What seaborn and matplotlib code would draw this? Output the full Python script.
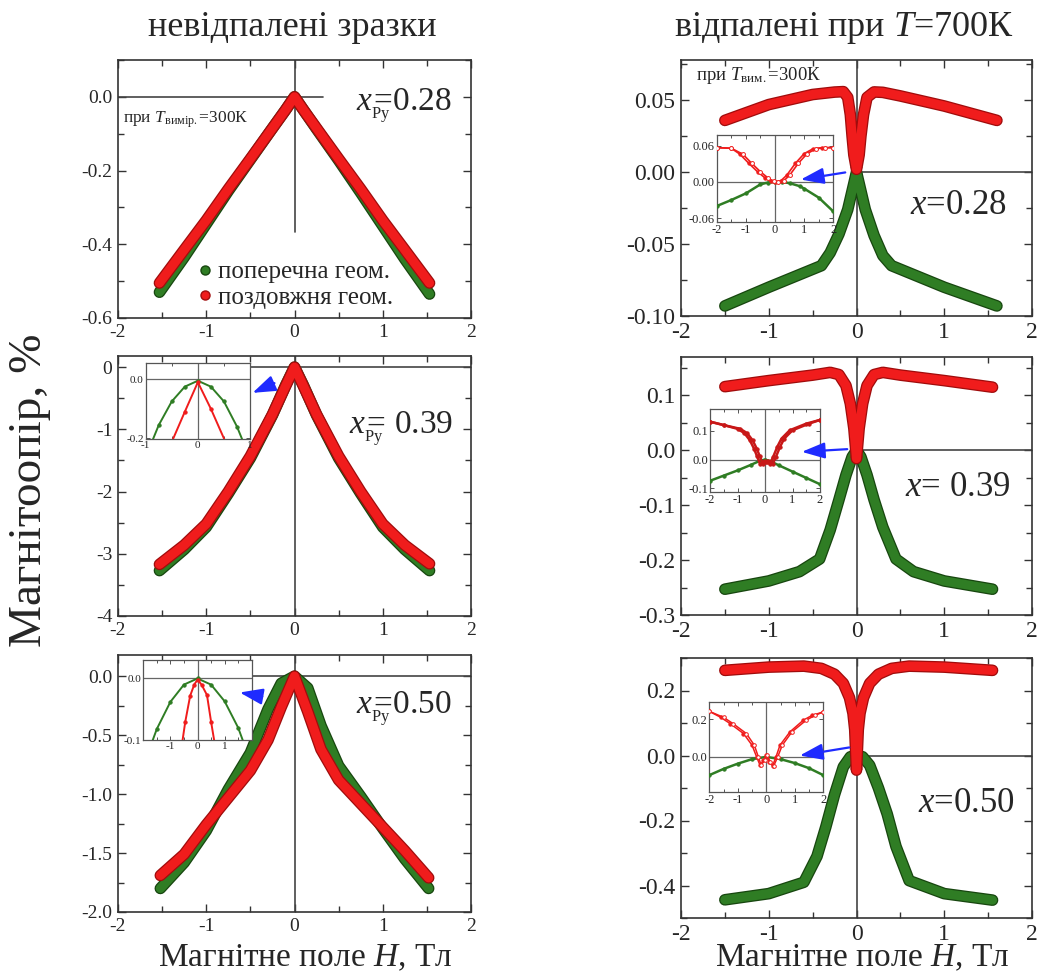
import numpy as np
import pandas as pd
import matplotlib
matplotlib.use('Agg')
import matplotlib.pyplot as plt
import seaborn as sns
from matplotlib.lines import Line2D
from matplotlib.patches import FancyArrowPatch
import matplotlib.patheffects as pe
from matplotlib.ticker import MultipleLocator, FuncFormatter

# ---------------- data ----------------
# left column: as-deposited films
L_H = [-1.53, -1.25, -1.0, -0.75, -0.5, -0.25, -0.1, 0.0, 0.1, 0.25, 0.5, 0.75, 1.0, 1.25, 1.53]
L1_red = [-0.505, -0.415, -0.335, -0.25, -0.168, -0.085, -0.035, 0.0, -0.035, -0.085, -0.168, -0.25, -0.335, -0.415, -0.505]
L1_green = [-0.53, -0.435, -0.345, -0.255, -0.17, -0.085, -0.035, 0.0, -0.035, -0.087, -0.172, -0.26, -0.35, -0.44, -0.535]
L2_red = [-3.17, -2.86, -2.52, -2.0, -1.43, -0.76, -0.30, 0.0, -0.30, -0.76, -1.43, -2.0, -2.52, -2.86, -3.16]
L2_green = [-3.27, -2.93, -2.57, -2.03, -1.46, -0.77, -0.29, 0.0, -0.29, -0.77, -1.46, -2.03, -2.57, -2.93, -3.27]
L3_H = [-1.52, -1.25, -1.0, -0.75, -0.5, -0.3, -0.15, 0.0, 0.15, 0.3, 0.5, 0.75, 1.0, 1.25, 1.52]
L3_red = [-1.69, -1.51, -1.26, -1.03, -0.80, -0.54, -0.26, 0.0, -0.30, -0.62, -0.88, -1.08, -1.28, -1.48, -1.71]
L3_green = [-1.80, -1.58, -1.31, -0.96, -0.65, -0.28, -0.06, 0.0, -0.10, -0.42, -0.76, -1.02, -1.29, -1.55, -1.80]

# left insets
L2i_gH = [-0.9, -0.75, -0.5, -0.25, 0.0, 0.25, 0.5, 0.75, 0.9]
L2i_g = [-0.22, -0.155, -0.075, -0.025, -0.005, -0.025, -0.075, -0.16, -0.225]
L2i_rH = [-0.52, -0.25, 0.0, 0.25, 0.55]
L2i_r = [-0.22, -0.11, -0.01, -0.10, -0.22]
L3i_gH = [-1.75, -1.5, -1.0, -0.5, 0.0, 0.5, 1.0, 1.5, 1.75]
L3i_g = [-0.112, -0.082, -0.038, -0.010, 0.0, -0.010, -0.037, -0.080, -0.110]
L3i_rH = [-0.6, -0.45, -0.27, -0.12, 0.0, 0.15, 0.35, 0.5, 0.65]
L3i_r = [-0.115, -0.07, -0.028, -0.01, -0.002, -0.01, -0.027, -0.07, -0.11]

# right column: annealed at 700 K
R1_rH = [-1.5, -1.0, -0.5, -0.25, -0.15, -0.1, -0.07, -0.05, -0.03, 0.0, 0.03, 0.05, 0.08, 0.12, 0.2, 0.3, 0.5, 1.0, 1.6]
R1_red = [0.036, 0.047, 0.054, 0.0557, 0.056, 0.052, 0.040, 0.025, 0.012, 0.002, 0.012, 0.025, 0.040, 0.052, 0.0558, 0.0555, 0.053, 0.046, 0.036]
R1_gH = [-1.5, -1.0, -0.6, -0.4, -0.3, -0.2, -0.1, -0.05, 0.0, 0.05, 0.1, 0.2, 0.3, 0.4, 0.6, 1.0, 1.6]
R1_green = [-0.093, -0.080, -0.070, -0.065, -0.056, -0.043, -0.026, -0.013, 0.0, -0.013, -0.026, -0.044, -0.058, -0.065, -0.070, -0.080, -0.093]
R2_rH = [-1.5, -1.0, -0.5, -0.3, -0.2, -0.12, -0.07, -0.03, 0.0, 0.03, 0.07, 0.12, 0.2, 0.3, 0.5, 1.0, 1.55]
R2_red = [0.116, 0.127, 0.137, 0.142, 0.138, 0.118, 0.085, 0.040, -0.015, 0.040, 0.085, 0.118, 0.138, 0.142, 0.137, 0.127, 0.115]
R2_gH = [-1.5, -1.0, -0.65, -0.42, -0.3, -0.2, -0.12, -0.05, 0.0, 0.05, 0.12, 0.2, 0.3, 0.45, 0.65, 1.0, 1.55]
R2_green = [-0.253, -0.238, -0.221, -0.198, -0.145, -0.09, -0.045, -0.012, 0.0, -0.012, -0.045, -0.09, -0.14, -0.198, -0.221, -0.238, -0.253]
R3_rH = [-1.5, -1.0, -0.6, -0.4, -0.25, -0.15, -0.08, -0.04, -0.02, 0.0, 0.02, 0.04, 0.08, 0.15, 0.25, 0.4, 0.6, 1.0, 1.55]
R3_red = [0.262, 0.272, 0.275, 0.268, 0.250, 0.222, 0.178, 0.130, 0.080, -0.045, 0.080, 0.130, 0.178, 0.222, 0.250, 0.268, 0.275, 0.272, 0.262]
R3_gH = [-1.5, -1.0, -0.6, -0.45, -0.35, -0.25, -0.15, -0.07, 0.0, 0.07, 0.15, 0.25, 0.35, 0.45, 0.6, 1.0, 1.55]
R3_green = [-0.444, -0.425, -0.390, -0.31, -0.22, -0.12, -0.035, -0.004, 0.0, -0.004, -0.03, -0.10, -0.18, -0.28, -0.385, -0.425, -0.445]

# right insets
R1i_gH = [-2.0, -1.5, -1.0, -0.5, -0.25, 0.0, 0.25, 0.5, 0.85, 1.0, 1.5, 2.0]
R1i_g = [-0.040, -0.030, -0.019, -0.004, -0.001, 0.0, 0.0, -0.002, -0.007, -0.011, -0.026, -0.049]
R1i_rH_a = [-2.0, -1.5, -1.2, -0.9, -0.6, -0.35, -0.15, 0.0, 0.2, 0.4, 0.7, 1.0, 1.3, 1.6, 2.0]
R1i_rH_b = [-2.0, -1.5, -1.1, -0.8, -0.5, -0.25, -0.05, 0.1, 0.3, 0.5, 0.8, 1.1, 1.4, 1.7, 2.0]
R1i_r = [0.057, 0.056, 0.046, 0.031, 0.017, 0.007, 0.001, 0.0, 0.002, 0.011, 0.031, 0.047, 0.055, 0.057, 0.057]
R2i_gH = [-2.0, -1.5, -1.0, -0.5, -0.2, 0.0, 0.2, 0.5, 1.0, 1.5, 2.0]
R2i_g = [-0.074, -0.056, -0.038, -0.018, -0.005, 0.0, -0.006, -0.02, -0.042, -0.064, -0.086]
R2i_rH_a = [-2.0, -1.5, -1.0, -0.75, -0.55, -0.4, -0.3, -0.18, -0.08, 0.0, 0.08, 0.18, 0.3, 0.45, 0.6, 0.9, 1.5, 2.0]
R2i_rH_b = [-2.0, -1.5, -0.9, -0.65, -0.45, -0.3, -0.2, -0.08, 0.02, 0.1, 0.18, 0.28, 0.4, 0.55, 0.7, 1.0, 1.6, 2.0]
R2i_r = [0.132, 0.120, 0.107, 0.092, 0.067, 0.038, 0.014, -0.015, -0.010, -0.004, -0.010, -0.015, 0.010, 0.045, 0.073, 0.102, 0.125, 0.138]
R3i_gH = [-2.0, -1.5, -1.0, -0.5, 0.0, 0.5, 1.0, 1.5, 2.0]
R3i_g = [-0.097, -0.064, -0.036, -0.012, 0.0, -0.012, -0.033, -0.06, -0.097]
R3i_rH_a = [-2.0, -1.6, -1.27, -0.8, -0.5, -0.34, -0.22, -0.1, 0.0, 0.1, 0.22, 0.34, 0.48, 0.83, 1.3, 1.6, 2.0]
R3i_rH_b = [-2.0, -1.5, -1.17, -0.7, -0.42, -0.28, -0.18, -0.06, 0.03, 0.14, 0.26, 0.4, 0.56, 0.9, 1.4, 1.7, 2.0]
R3i_r = [0.242, 0.21, 0.177, 0.124, 0.062, 0.0, -0.044, -0.018, 0.009, -0.027, -0.048, 0.0, 0.062, 0.133, 0.195, 0.22, 0.239]

legend_labels = ['поперечна геом.', 'поздовжня геом.']
col_titles = ['невідпалені зразки', 'відпалені при $T$=700К']
xlabel_text = 'Магнітне поле $H$, Тл'
ylabel_text = 'Магнітоопір, %'
left_x_values = ['=0.28', '= 0.39', '=0.50']
right_x_values = ['=0.28', '= 0.39', '=0.50']

# ---------------- style ----------------
sns.set_style('ticks')
plt.rcParams['font.family'] = ['Liberation Serif', 'DejaVu Serif']
plt.rcParams['mathtext.fontset'] = 'custom'
plt.rcParams['mathtext.rm'] = 'Liberation Serif'
plt.rcParams['mathtext.it'] = 'Liberation Serif:italic'
plt.rcParams['axes.unicode_minus'] = False

GREEN, GREEN_E = '#2f7d24', '#17460f'
RED, RED_E = '#f01c1c', '#a00c0c'
BLUE = '#1f2bff'
ZL = '#444444'

W, Hpx = 1037, 976
fig = plt.figure(figsize=(W / 100, Hpx / 100), dpi=100)


def box(x0, y0, x1, y1):
    return [x0 / W, 1 - y1 / Hpx, (x1 - x0) / W, (y1 - y0) / Hpx]


def fmt(dec):
    def f(v, p):
        if abs(v) < 1e-9:
            v = 0.0
        return f'{v:.{dec}f}'
    return FuncFormatter(f)


def band(ax, x, y, fill, edge, lw=6.6):
    sns.lineplot(x=x, y=y, ax=ax, sort=False, estimator=None, color=fill, lw=lw,
                 solid_capstyle='round', solid_joinstyle='round',
                 path_effects=[pe.Stroke(linewidth=lw + 1.8, foreground=edge), pe.Normal()],
                 zorder=3, legend=False)


def thin(ax, x, y, color, mfc=None, lw=1.4, ms=2.4):
    sns.lineplot(x=x, y=y, ax=ax, sort=False, estimator=None, color=color, lw=lw,
                 marker='o', ms=ms, mfc=mfc if mfc else color, mec=color, mew=0.7,
                 zorder=3, legend=False)


def style_main(ax, ylim, ymaj, dec, fs):
    ax.set_xlim(-2, 2)
    ax.set_ylim(*ylim)
    ax.xaxis.set_major_locator(MultipleLocator(1))
    ax.xaxis.set_minor_locator(MultipleLocator(0.5))
    ax.yaxis.set_major_locator(MultipleLocator(ymaj))
    ax.yaxis.set_minor_locator(MultipleLocator(ymaj / 2))
    ax.xaxis.set_major_formatter(fmt(0))
    ax.yaxis.set_major_formatter(fmt(dec))
    ax.tick_params(which='both', direction='in', top=True, right=True,
                   labelsize=fs, width=1.0, color='#333333', pad=4)
    ax.tick_params(which='major', length=6)
    ax.tick_params(which='minor', length=4.5)
    for s in ax.spines.values():
        s.set_linewidth(1.2)
        s.set_color('#333333')
    ax.set_xlabel('')
    ax.set_ylabel('')


def style_inset(ax, xlim, ylim, xt, yt, ydec, fs=8.5):
    ax.set_xlim(*xlim)
    ax.set_ylim(*ylim)
    ax.set_xticks(xt)
    ax.set_yticks(yt)
    ax.xaxis.set_minor_locator(MultipleLocator(0.5))
    ax.xaxis.set_major_formatter(fmt(0))
    ax.yaxis.set_major_formatter(fmt(ydec))
    ax.tick_params(which='both', direction='in', top=True, right=True,
                   labelsize=fs, width=0.7, color='#555555', pad=1.5)
    ax.tick_params(which='major', length=3)
    ax.tick_params(which='minor', length=2)
    for s in ax.spines.values():
        s.set_linewidth(0.9)
        s.set_color('#555555')
    ax.axhline(0, color='#666666', lw=0.9, zorder=1)
    ax.axvline(0, color='#666666', lw=0.9, zorder=1)
    ax.set_xlabel('')
    ax.set_ylabel('')


def arrow(p_from, p_to):
    a = FancyArrowPatch((p_from[0] / W, 1 - p_from[1] / Hpx), (p_to[0] / W, 1 - p_to[1] / Hpx),
                        transform=fig.transFigure, arrowstyle='-|>,head_length=1.0,head_width=0.35',
                        mutation_scale=14, color=BLUE, lw=1.6, zorder=20)
    fig.add_artist(a)


# ---------------- main panels ----------------
axL1 = fig.add_axes(box(118, 60, 471, 318))
axL2 = fig.add_axes(box(118, 356, 471, 616))
axL3 = fig.add_axes(box(118, 655, 471, 912))
axR1 = fig.add_axes(box(681, 60, 1032, 316))
axR2 = fig.add_axes(box(681, 357, 1032, 615))
axR3 = fig.add_axes(box(681, 658, 1032, 918))

# zero reference lines
axL1.axhline(0, xmin=0, xmax=0.58, color=ZL, lw=1.2, zorder=1)
axL1.axvline(0, ymin=0.334, ymax=1, color=ZL, lw=1.2, zorder=1)
for ax in (axL2, axL3):
    ax.axhline(0, xmin=0.375, xmax=1, color=ZL, lw=1.2, zorder=1)
    ax.axvline(0, color=ZL, lw=1.2, zorder=1)
for ax in (axR1, axR2, axR3):
    ax.axhline(0, xmin=0.5, xmax=1, color=ZL, lw=1.2, zorder=1)
    ax.axvline(0, color=ZL, lw=1.2, zorder=1)

band(axL1, L_H, L1_green, GREEN, GREEN_E)
band(axL1, L_H, L1_red, RED, RED_E)
band(axL2, L_H, L2_green, GREEN, GREEN_E)
band(axL2, L_H, L2_red, RED, RED_E)
band(axL3, L3_H, L3_green, GREEN, GREEN_E)
band(axL3, L3_H, L3_red, RED, RED_E)
band(axR1, R1_gH, R1_green, GREEN, GREEN_E)
band(axR1, R1_rH, R1_red, RED, RED_E)
band(axR2, R2_gH, R2_green, GREEN, GREEN_E)
band(axR2, R2_rH, R2_red, RED, RED_E)
band(axR3, R3_gH, R3_green, GREEN, GREEN_E)
band(axR3, R3_rH, R3_red, RED, RED_E)

style_main(axL1, (-0.6, 0.1), 0.2, 1, 14)
style_main(axL2, (-4, 0.18), 1, 0, 14)
style_main(axL3, (-2.0, 0.18), 0.5, 1, 14)
style_main(axR1, (-0.10, 0.078), 0.05, 2, 17)
style_main(axR2, (-0.3, 0.17), 0.1, 1, 17)
style_main(axR3, (-0.5, 0.3), 0.2, 1, 17)

# legend in first panel
handles = [Line2D([], [], ls='', marker='o', ms=6.5, mfc=GREEN, mec=GREEN_E),
           Line2D([], [], ls='', marker='o', ms=6.5, mfc=RED, mec=RED_E)]
axL1.legend(handles, legend_labels, loc='lower left', bbox_to_anchor=(0.215, 0.035),
            frameon=False, fontsize=18, handletextpad=0.05, handlelength=0.9,
            borderaxespad=0, labelspacing=0.12, borderpad=0)

# ---------------- insets ----------------
iL2 = fig.add_axes(box(145.7, 362.7, 250, 439.3))
thin(iL2, L2i_gH, L2i_g, GREEN)
thin(iL2, L2i_rH, L2i_r, RED)
style_inset(iL2, (-1, 1), (-0.203, 0.056), [-1, 0, 1], [-0.2, 0.0], 1, fs=8)

iL3 = fig.add_axes(box(143.3, 660, 251.7, 740))
thin(iL3, L3i_gH, L3i_g, GREEN)
thin(iL3, L3i_rH, L3i_r, RED)
style_inset(iL3, (-2, 2), (-0.1, 0.03), [-1, 0, 1], [-0.1, 0.0], 1, fs=8)

iR1 = fig.add_axes(box(716.7, 135, 833.3, 221.7))
thin(iR1, R1i_gH, R1i_g, GREEN, lw=1.8)
thin(iR1, R1i_rH_a, R1i_r, RED, lw=1.2)
thin(iR1, R1i_rH_b, R1i_r, RED, mfc='white', lw=1.2, ms=2.8)
style_inset(iR1, (-2, 2), (-0.066, 0.078), [-2, -1, 0, 1, 2], [-0.06, 0.0, 0.06], 2, fs=9)

iR2 = fig.add_axes(box(710, 409.3, 820, 491.7))
thin(iR2, R2i_gH, R2i_g, GREEN, lw=1.8)
thin(iR2, R2i_rH_a, R2i_r, '#c81818', lw=1.8)
thin(iR2, R2i_rH_b, R2i_r, '#c81818', lw=1.8)
style_inset(iR2, (-2, 2), (-0.112, 0.175), [-2, -1, 0, 1, 2], [-0.1, 0.0, 0.1], 1, fs=9)

iR3 = fig.add_axes(box(709.3, 702.3, 823.3, 791.7))
thin(iR3, R3i_gH, R3i_g, GREEN, lw=1.8)
thin(iR3, R3i_rH_a, R3i_r, RED, lw=1.1)
thin(iR3, R3i_rH_b, R3i_r, RED, mfc='white', lw=1.1, ms=2.6)
style_inset(iR3, (-2, 2), (-0.185, 0.29), [-2, -1, 0, 1, 2], [0.0, 0.2], 1, fs=9)

for ia in (iL2, iL3, iR1, iR2, iR3):
    ia.set_zorder(5)
    ia.set_facecolor('white')

# arrows pointing to insets
arrow((277, 382), (250, 394))
arrow((265, 697), (237, 692))
arrow((848, 172), (798, 180))
arrow((850, 449), (799, 452))
arrow((852, 747), (797, 756))

# ---------------- texts ----------------
def ftext(px, py, s, **kw):
    fig.text(px / W, 1 - py / Hpx, s, **kw)

ftext(292, 28, col_titles[0], fontsize=26, ha='center', va='center')
ftext(844, 28, col_titles[1], fontsize=26, ha='center', va='center')
ftext(305, 958, xlabel_text, fontsize=24, ha='center', va='center')
ftext(862, 958, xlabel_text, fontsize=24, ha='center', va='center')
ftext(30, 490, ylabel_text, fontsize=34, ha='center', va='center', rotation=90)

ftext(123, 120, 'при $T_{\\mathrm{вимір.}}$=300К', fontsize=12.5, ha='left', va='center')
ftext(696, 75, 'при $T_{\\mathrm{вим.}}$=300К', fontsize=13.5, ha='left', va='center')

# x with a tiny "Py" subscript tucked under the equals sign (one text object)
XPY = r'$x_{{}_{\mathrm{Py}}}\!\!\!\!$'
ftext(356, 106, XPY + left_x_values[0], fontsize=24, ha='left', va='center')
ftext(349, 429, XPY + left_x_values[1], fontsize=24, ha='left', va='center')
ftext(356, 709, XPY + left_x_values[2], fontsize=24, ha='left', va='center')
ftext(910, 205, '$x$' + right_x_values[0], fontsize=25, ha='left', va='center')
ftext(905, 488, '$x$' + right_x_values[1], fontsize=25, ha='left', va='center')
ftext(918, 803, '$x$' + right_x_values[2], fontsize=25, ha='left', va='center')

fig.savefig('out.png', dpi=100)
